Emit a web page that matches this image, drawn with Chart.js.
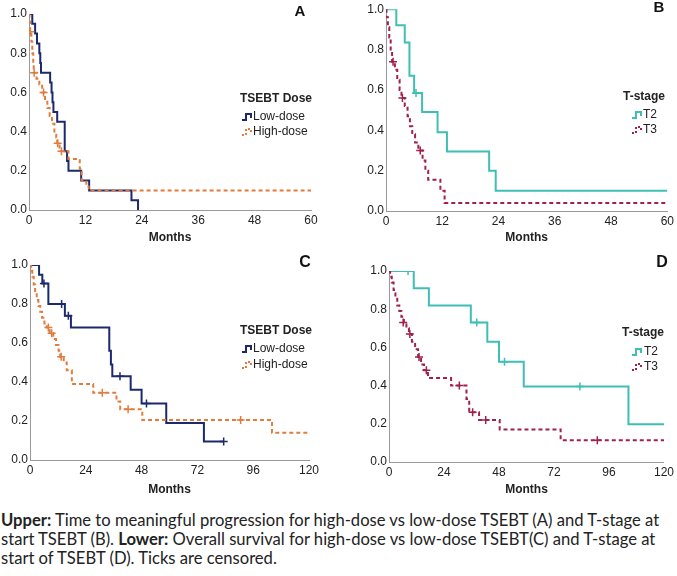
<!DOCTYPE html>
<html>
<head>
<meta charset="utf-8">
<script src="https://cdn.jsdelivr.net/npm/chart.js@4.4.1/dist/chart.umd.min.js"></script>
<style>
  body { margin: 0; background: #fff; width: 677px; height: 576px; position: relative; overflow: hidden; }
  canvas { position: absolute; }
  #caption { position: absolute; left: 1px; top: 511px; font: 16.6px Lato, 'Open Sans', sans-serif; line-height: 19px; color: #222; white-space: nowrap; }
</style>
</head>
<body>
<canvas id="pA" width="338" height="248" style="left:0;top:0"></canvas>
<canvas id="pB" width="339" height="248" style="left:338px;top:0"></canvas>
<canvas id="pC" width="338" height="250" style="left:0;top:250px"></canvas>
<canvas id="pD" width="339" height="250" style="left:338px;top:250px"></canvas>
<div id="caption"><b>Upper:</b> Time to meaningful progression for high-dose vs low-dose TSEBT (A) and T-stage at<br>start TSEBT (B). <b>Lower:</b> Overall survival for high-dose vs low-dose TSEBT(C) and T-stage at<br>start of TSEBT (D). Ticks are censored.</div>
<script>
// A: time to meaningful progression, by TSEBT dose
const aLowMonths = [0, 0.7, 1.3, 1.7, 2.2, 2.4, 2.55, 4.5, 4.8, 5.0, 5.2, 6.0, 7.6, 8.1, 8.4, 11.1, 12.8, 21.8, 23.2];
const aLowSurv   = [1.0, 0.95, 0.90, 0.85, 0.80, 0.75, 0.70, 0.65, 0.60, 0.55, 0.50, 0.45, 0.30, 0.25, 0.20, 0.15, 0.10, 0.05, 0.0];
const aHighMonths = [0, 0.1, 0.2, 0.5, 0.7, 0.9, 1.0, 1.6, 2.2, 2.8, 3.4, 3.9, 4.4, 4.9, 5.4, 5.8, 6.0, 6.5, 8.4, 10.8, 11.2, 12.2, 12.7, 60];
const aHighSurv   = [1.0, 0.96, 0.91, 0.86, 0.80, 0.74, 0.70, 0.67, 0.64, 0.60, 0.56, 0.52, 0.48, 0.44, 0.40, 0.37, 0.34, 0.30, 0.26, 0.21, 0.15, 0.12, 0.10, 0.10];
const aHighCensMonths = [0.3, 1.1, 3.1, 6.1, 6.9];
const aHighCensSurv   = [0.91, 0.70, 0.60, 0.34, 0.30];

// B: time to meaningful progression, by T-stage
const bT2Months = [0, 2.2, 4.0, 5.0, 6.0, 7.7, 11.0, 13.0, 22.0, 23.4, 60];
const bT2Surv   = [1.0, 0.92, 0.835, 0.67, 0.585, 0.49, 0.39, 0.295, 0.20, 0.10, 0.10];
const bT2CensMonths = [6.4];
const bT2CensSurv   = [0.585];
const bT3Months = [0, 0.1, 0.4, 0.7, 1.0, 1.3, 1.9, 2.4, 2.9, 3.3, 4.0, 4.6, 5.1, 5.6, 6.2, 6.9, 7.8, 8.4, 9.0, 11.6, 12.5, 60];
const bT3Surv   = [1.0, 0.96, 0.91, 0.86, 0.80, 0.74, 0.70, 0.65, 0.60, 0.56, 0.52, 0.47, 0.42, 0.38, 0.34, 0.30, 0.25, 0.20, 0.155, 0.10, 0.04, 0.04];
const bT3CensMonths = [1.5, 3.5, 7.3];
const bT3CensSurv   = [0.74, 0.56, 0.30];

// C: overall survival, by TSEBT dose
const cLowMonths = [0, 3.9, 5.3, 7.9, 15.0, 17.6, 34.1, 34.8, 35.4, 43.3, 48.0, 58.6, 74.8, 83.3];
const cLowSurv   = [1.0, 0.95, 0.905, 0.80, 0.74, 0.68, 0.56, 0.49, 0.43, 0.36, 0.29, 0.19, 0.095, 0.095];
const cLowCensMonths = [6.0, 13.6, 16.5, 38.7, 50.1, 83.3];
const cLowCensSurv   = [0.905, 0.80, 0.74, 0.43, 0.29, 0.095];
const cHighMonths = [0, 0.5, 1.0, 1.6, 2.2, 2.9, 3.6, 4.4, 5.2, 6.2, 7.2, 8.5, 10.0, 11.2, 12.3, 13.0, 14.5, 15.8, 18.0, 27.2, 37.2, 38.8, 48.3, 104.1, 120];
const cHighSurv   = [1.0, 0.97, 0.94, 0.90, 0.86, 0.82, 0.79, 0.76, 0.73, 0.70, 0.68, 0.65, 0.62, 0.59, 0.56, 0.53, 0.50, 0.46, 0.39, 0.345, 0.30, 0.26, 0.205, 0.14, 0.14];
const cHighCensMonths = [7.9, 9.3, 13.4, 31.1, 42.2, 90.6];
const cHighCensSurv   = [0.68, 0.65, 0.53, 0.345, 0.26, 0.205];

// D: overall survival, by T-stage
const dT2Months = [0, 10.8, 17.4, 35.7, 42.9, 48.0, 58.8, 104.5, 120];
const dT2Surv   = [1.0, 0.91, 0.82, 0.73, 0.63, 0.525, 0.395, 0.197, 0.197];
const dT2CensMonths = [8.3, 38.3, 50.4, 83.3];
const dT2CensSurv   = [1.0, 0.73, 0.525, 0.395];
const dT3Months = [0, 0.5, 1.2, 2.0, 2.8, 3.6, 4.5, 5.4, 6.5, 7.6, 8.7, 10.0, 11.4, 12.7, 14.0, 15.3, 17.0, 27.1, 33.8, 35.0, 39.3, 48.3, 74.9, 120];
const dT3Surv   = [1.0, 0.97, 0.94, 0.90, 0.86, 0.82, 0.79, 0.76, 0.73, 0.70, 0.67, 0.63, 0.59, 0.55, 0.51, 0.48, 0.44, 0.40, 0.33, 0.26, 0.22, 0.17, 0.114, 0.114];
const dT3CensMonths = [6.2, 9.1, 13.1, 16.3, 30.7, 36.5, 42.2, 90.9];
const dT3CensSurv   = [0.73, 0.67, 0.55, 0.48, 0.40, 0.26, 0.22, 0.114];

const NAVY = '#1c2a6c', ORANGE = '#e07d3e', TEAL = '#3fbeb6', CRIMSON = '#a02149';
const FAMILY = "'Liberation Sans', Arial, sans-serif";

const pts = (t, s) => t.map((x, i) => ({ x: x, y: s[i] }));

const curve = (t, s, color, dash) => ({
    data: pts(t, s), borderColor: color, borderWidth: 2, borderDash: dash || [],
    stepped: true, pointRadius: 0, fill: false
});
const censor = (t, s, color) => ({
    data: pts(t, s), showLine: false, pointStyle: 'cross', pointRadius: 4,
    pointBorderColor: color, pointBorderWidth: 1.5, borderColor: color
});

// legend box + panel letter, drawn inside the plot like the original figure
const kmLegend = {
    id: 'kmLegend',
    afterDraw(chart, args, o) {
        const ctx = chart.ctx;
        ctx.save();
        ctx.textBaseline = 'middle';
        ctx.textAlign = 'left';
        ctx.fillStyle = '#222';
        ctx.font = 'bold 12px ' + FAMILY;
        ctx.fillText(o.title, o.x, o.y);
        ctx.font = '12px ' + FAMILY;
        o.items.forEach((it, i) => {
            const yc = o.itemY[i];
            ctx.fillStyle = '#222';
            ctx.fillText(it.label, o.tx, yc);
            ctx.strokeStyle = it.color;
            ctx.lineWidth = 2;
            ctx.setLineDash(it.dash ? [2, 2] : []);
            ctx.beginPath();
            ctx.moveTo(o.ix, yc + 3);
            ctx.lineTo(o.ix + 4, yc + 3);
            ctx.lineTo(o.ix + 4, yc - 3);
            ctx.lineTo(o.ix + 9, yc - 3);
            ctx.lineTo(o.ix + 9, yc + 1);
            ctx.stroke();
        });
        ctx.setLineDash([]);
        ctx.fillStyle = '#111';
        ctx.textAlign = 'center';
        ctx.font = 'bold ' + o.letterSize + 'px ' + FAMILY;
        ctx.fillText(o.letter, o.lx, o.ly);
        ctx.restore();
    }
};

function kmChart(id, o) {
    return new Chart(document.getElementById(id), {
        type: 'line',
        data: { datasets: o.datasets },
        options: {
            responsive: false,
            animation: false,
            devicePixelRatio: 1,
            layout: { padding: o.pad },
            plugins: { legend: { display: false }, tooltip: { enabled: false }, kmLegend: o.legend },
            scales: {
                x: {
                    type: 'linear', min: 0, max: o.xMax,
                    ticks: { stepSize: o.xStep, padding: 3, maxRotation: 0, color: '#222', font: { family: FAMILY, size: 12 } },
                    grid: { display: false, drawTicks: false },
                    border: { color: '#999', width: 1 },
                    title: { display: true, text: 'Months', color: '#222', font: { family: FAMILY, size: 12, weight: 'bold' }, padding: { top: 0, bottom: o.titlePad } },
                    afterFit: s => { s.height = o.xH; }
                },
                y: {
                    min: 0, max: 1,
                    ticks: { stepSize: 0.2, padding: 2, color: '#222', font: { family: FAMILY, size: 12 }, callback: v => v.toFixed(1) },
                    grid: { display: false, drawTicks: false },
                    border: { color: '#999', width: 1 },
                    afterFit: s => { s.width = o.yW; }
                }
            }
        },
        plugins: [kmLegend]
    });
}

kmChart('pA', {
    datasets: [
        curve(aHighMonths, aHighSurv, ORANGE, [4, 3]),
        censor(aHighCensMonths, aHighCensSurv, ORANGE),
        curve(aLowMonths, aLowSurv, NAVY)
    ],
    pad: { top: 14, right: 27, left: 0, bottom: 0 }, yW: 29, xH: 38, titlePad: 3,
    xMax: 60, xStep: 12,
    legend: { title: 'TSEBT Dose', x: 240, y: 99, tx: 253, ix: 242, itemY: [117, 132],
        items: [{ label: 'Low-dose', color: NAVY }, { label: 'High-dose', color: ORANGE, dash: true }],
        letter: 'A', lx: 300, ly: 12, letterSize: 15 }
});

kmChart('pB', {
    datasets: [
        curve(bT3Months, bT3Surv, CRIMSON, [4, 3]),
        censor(bT3CensMonths, bT3CensSurv, CRIMSON),
        curve(bT2Months, bT2Surv, TEAL),
        censor(bT2CensMonths, bT2CensSurv, TEAL)
    ],
    pad: { top: 9, right: 8, left: 19, bottom: 0 }, yW: 29, xH: 37, titlePad: 3,
    xMax: 60, xStep: 12,
    legend: { title: 'T-stage', x: 285, y: 97, tx: 305, ix: 294, itemY: [115, 130],
        items: [{ label: 'T2', color: TEAL }, { label: 'T3', color: CRIMSON, dash: true }],
        letter: 'B', lx: 321, ly: 8, letterSize: 15 }
});

kmChart('pC', {
    datasets: [
        curve(cHighMonths, cHighSurv, ORANGE, [4, 3]),
        censor(cHighCensMonths, cHighCensSurv, ORANGE),
        curve(cLowMonths, cLowSurv, NAVY),
        censor(cLowCensMonths, cLowCensSurv, NAVY)
    ],
    pad: { top: 15, right: 29, left: 0, bottom: 0 }, yW: 30, xH: 40, titlePad: 3,
    xMax: 120, xStep: 24,
    legend: { title: 'TSEBT Dose', x: 240, y: 81, tx: 253, ix: 242, itemY: [99, 115],
        items: [{ label: 'Low-dose', color: NAVY }, { label: 'High-dose', color: ORANGE, dash: true }],
        letter: 'C', lx: 305, ly: 13, letterSize: 16 }
});

kmChart('pD', {
    datasets: [
        curve(dT3Months, dT3Surv, CRIMSON, [4, 3]),
        censor(dT3CensMonths, dT3CensSurv, CRIMSON),
        curve(dT2Months, dT2Surv, TEAL),
        censor(dT2CensMonths, dT2CensSurv, TEAL)
    ],
    pad: { top: 21, right: 11, left: 22, bottom: 0 }, yW: 29, xH: 38, titlePad: 3,
    xMax: 120, xStep: 24,
    legend: { title: 'T-stage', x: 284, y: 83, tx: 306, ix: 294, itemY: [102, 117],
        items: [{ label: 'T2', color: TEAL }, { label: 'T3', color: CRIMSON, dash: true }],
        letter: 'D', lx: 324, ly: 13, letterSize: 16 }
});
</script>
</body>
</html>
